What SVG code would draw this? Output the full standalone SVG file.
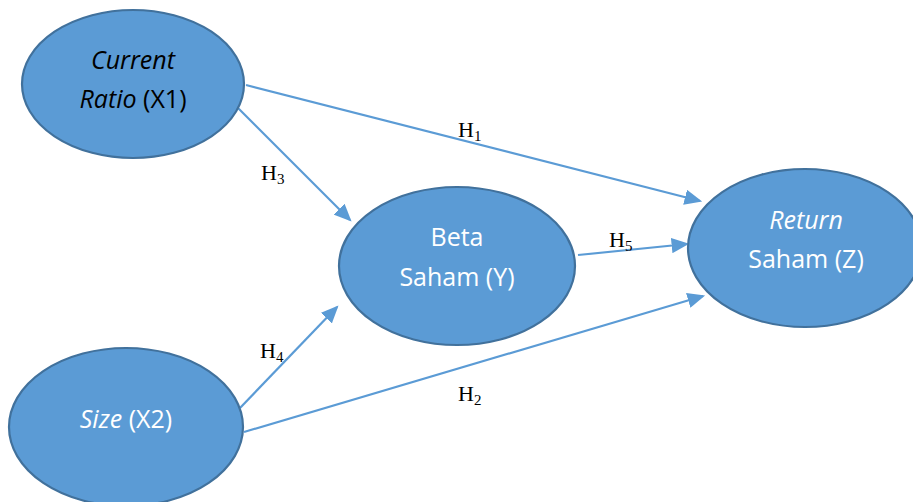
<svg xmlns="http://www.w3.org/2000/svg" width="913" height="502" viewBox="0 0 913 502">
  <style>
    .node { fill: #5B9BD5; stroke: #41719C; stroke-width: 2.2; }
    .lbl { font-family: "Open Sans", "Liberation Sans", sans-serif; font-size: 25px; text-anchor: middle; }
    .white { fill: #FFFFFF; }
    .dark { fill: #000000; }
    .edge { stroke: #5B9BD5; stroke-width: 2.2; fill: none; marker-end: url(#arrow); }
    .h { font-family: "Liberation Serif", "Times New Roman", serif; font-size: 22px; fill: #000; }
    .sub { font-size: 15px; }
  </style>
  <defs>
    <marker id="arrow" markerWidth="8" markerHeight="7" refX="7" refY="3.5" orient="auto" markerUnits="strokeWidth">
      <path d="M0,0 L8,3.5 L0,7 Z" fill="#5B9BD5"/>
    </marker>
  </defs>
  <rect width="913" height="502" fill="#FFFFFF"/>

  <g id="connectors">
    <line class="edge" x1="246" y1="85" x2="700" y2="201"/>
    <line class="edge" x1="238" y1="108" x2="350" y2="220"/>
    <line class="edge" x1="240" y1="408" x2="337" y2="307"/>
    <line class="edge" x1="244" y1="432" x2="703" y2="296"/>
    <line class="edge" x1="578" y1="255" x2="687" y2="244"/>
  </g>

  <g id="labels">
    <text class="h" x="458" y="137">H<tspan class="sub" dy="4">1</tspan></text>
    <text class="h" x="458" y="401">H<tspan class="sub" dy="4">2</tspan></text>
    <text class="h" x="261" y="180">H<tspan class="sub" dy="4">3</tspan></text>
    <text class="h" x="260" y="358">H<tspan class="sub" dy="4">4</tspan></text>
    <text class="h" x="609" y="247">H<tspan class="sub" dy="4">5</tspan></text>
  </g>

  <g id="current-ratio">
    <ellipse class="node" cx="133" cy="84" rx="111" ry="74"/>
    <text class="lbl dark" x="133" y="69"><tspan font-style="italic">Current</tspan></text>
    <text class="lbl dark" x="133" y="108"><tspan font-style="italic">Ratio</tspan> (X1)</text>
  </g>

  <g id="size">
    <ellipse class="node" cx="126" cy="427" rx="117" ry="79"/>
    <text class="lbl white" x="126" y="428"><tspan font-style="italic">Size</tspan> (X2)</text>
  </g>

  <g id="beta-saham">
    <ellipse class="node" cx="457" cy="266" rx="118" ry="79"/>
    <text class="lbl white" x="457" y="246">Beta</text>
    <text class="lbl white" x="457" y="286">Saham (Y)</text>
  </g>

  <g id="return-saham">
    <ellipse class="node" cx="805" cy="248" rx="117" ry="79"/>
    <text class="lbl white" x="806" y="229"><tspan font-style="italic">Return</tspan></text>
    <text class="lbl white" x="806" y="268">Saham (Z)</text>
  </g>
</svg>
